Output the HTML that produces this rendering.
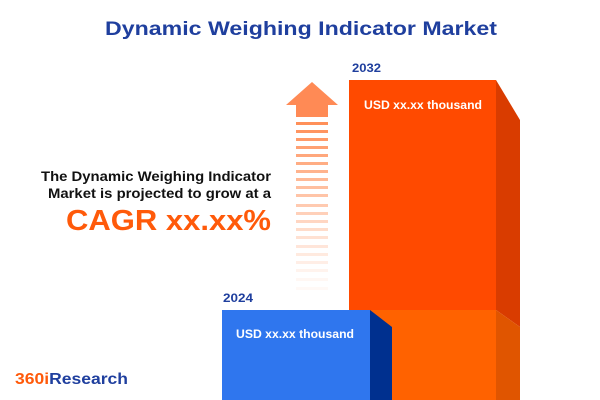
<!DOCTYPE html>
<html><head><meta charset="utf-8"><style>
html,body{margin:0;padding:0;background:#fff;}
svg{display:block;font-family:"Liberation Sans",sans-serif;font-weight:bold;}
</style></head><body>
<svg width="600" height="400" viewBox="0 0 600 400" xmlns="http://www.w3.org/2000/svg">
<text x="105" y="35" font-size="19.5" fill="#1f3f9e" textLength="392" lengthAdjust="spacingAndGlyphs">Dynamic Weighing Indicator Market</text>
<text x="41" y="181" font-size="14" fill="#111" textLength="230" lengthAdjust="spacingAndGlyphs">The Dynamic Weighing Indicator</text>
<text x="48" y="198" font-size="14" fill="#111" textLength="223" lengthAdjust="spacingAndGlyphs">Market is projected to grow at a</text>
<text x="66" y="230" font-size="29" fill="#ff5a0a" textLength="205" lengthAdjust="spacingAndGlyphs">CAGR xx.xx%</text>
<!-- arrow -->
<polygon points="286,105 312,82 338,105 328,105 328,117 296,117 296,105" fill="#ff8a55"/>
<g fill="#ff8a50">
<rect x="296" y="122" width="32" height="3" opacity="0.95"/>
<rect x="296" y="130" width="32" height="3" opacity="0.9"/>
<rect x="296" y="138" width="32" height="3" opacity="0.85"/>
<rect x="296" y="146" width="32" height="3" opacity="0.8"/>
<rect x="296" y="154" width="32" height="3" opacity="0.75"/>
<rect x="296" y="162" width="32" height="3" opacity="0.7"/>
<rect x="296" y="170" width="32" height="3" opacity="0.65"/>
<rect x="296" y="178" width="32" height="3" opacity="0.6"/>
<rect x="296" y="186" width="32" height="3" opacity="0.55"/>
<rect x="296" y="194" width="32" height="3" opacity="0.5"/>
<rect x="296" y="204" width="32" height="3" opacity="0.45"/>
<rect x="296" y="212" width="32" height="3" opacity="0.4"/>
<rect x="296" y="220" width="32" height="3" opacity="0.35"/>
<rect x="296" y="228" width="32" height="3" opacity="0.3"/>
<rect x="296" y="236" width="32" height="3" opacity="0.26"/>
<rect x="296" y="245" width="32" height="3" opacity="0.22"/>
<rect x="296" y="253" width="32" height="3" opacity="0.18"/>
<rect x="296" y="261" width="32" height="3" opacity="0.14"/>
<rect x="296" y="269" width="32" height="3" opacity="0.1"/>
<rect x="296" y="278" width="32" height="3" opacity="0.07"/>
<rect x="296" y="287" width="32" height="3" opacity="0.05"/>
</g>
<!-- 2032 bar -->
<text x="352" y="72" font-size="11.5" fill="#1f3f9e" textLength="29" lengthAdjust="spacingAndGlyphs">2032</text>
<rect x="349" y="80" width="147" height="230" fill="#ff4a00"/>
<polygon points="496,80 520,120 520,327 496,310" fill="#d93c00"/>
<rect x="370" y="310" width="126" height="90" fill="#ff6200"/>
<polygon points="496,310 520,327 520,400 496,400" fill="#e05500"/>
<text x="364" y="109" font-size="12" fill="#fff" textLength="118" lengthAdjust="spacingAndGlyphs">USD xx.xx thousand</text>
<!-- 2024 bar -->
<text x="223" y="302" font-size="11.5" fill="#1f3f9e" textLength="30" lengthAdjust="spacingAndGlyphs">2024</text>
<rect x="222" y="310" width="148" height="90" fill="#2f76ee"/>
<polygon points="370,310 392,327 392,400 370,400" fill="#00308f"/>
<text x="236" y="338" font-size="12" fill="#fff" textLength="118" lengthAdjust="spacingAndGlyphs">USD xx.xx thousand</text>
<!-- logo -->
<text x="15" y="384" font-size="15.5" textLength="113" lengthAdjust="spacingAndGlyphs"><tspan fill="#ff5a0a">360i</tspan><tspan fill="#1f3f9e">Research</tspan></text>
</svg>
</body></html>
